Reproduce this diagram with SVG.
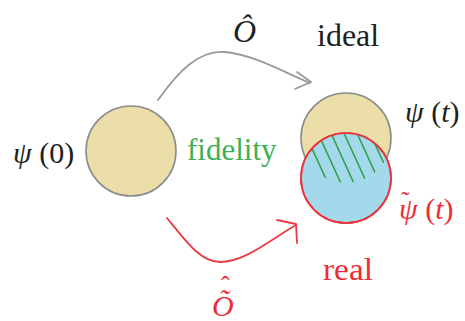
<svg xmlns="http://www.w3.org/2000/svg" width="465" height="321" viewBox="0 0 465 321">
<style>
.lbl{font-family:"Liberation Serif","DejaVu Serif",serif;font-size:30px;fill:#1e1e1e}
.it{font-style:italic}
.red{fill:#ee2c36}
.acc{font-style:normal;font-size:26px}
.conn{fill:none;stroke-width:1.8;stroke-linecap:round;stroke-linejoin:round}
.gray{stroke:#9a9a9a}
.rs{stroke:#ec3a44}
.yel{fill:#ebdea8;stroke:#8c8c8c;stroke-width:1.6}
</style>
<defs>
<clipPath id="clipY"><circle cx="346" cy="138" r="45"/></clipPath>
<clipPath id="clipB"><circle cx="346" cy="178" r="45"/></clipPath>
</defs>
<rect width="465" height="321" fill="#fff"/>

<g id="connectors">
  <g id="ideal-arrow">
    <path class="conn gray" d="M158,100 C178,72 198,50 225,52 C255,55 283,72 310,83"/>
    <path class="conn gray" d="M297,72 L311,82 L295,89"/>
  </g>
  <g id="real-arrow">
    <path class="conn rs" d="M167,218 C185,240 200,262 220,262 C245,262 270,240 296,225"/>
    <path class="conn rs" d="M277,220 L296,224 L297,243"/>
  </g>
</g>

<g id="psi0">
  <circle class="yel" cx="131" cy="151" r="45"/>
  <text class="lbl" x="13" y="163"><tspan class="it">ψ</tspan> (0)</text>
</g>

<g id="psit">
  <circle class="yel" cx="346" cy="138" r="45"/>
  <text class="lbl" x="405" y="122"><tspan class="it">ψ</tspan> (<tspan class="it">t</tspan>)</text>
</g>

<g id="psitilde">
  <circle cx="346" cy="178" r="45" fill="#a3d9ea" stroke="#e8343e" stroke-width="1.6"/>
  <g clip-path="url(#clipY)">
    <g clip-path="url(#clipB)" stroke="#2f9e44" stroke-width="1.5">
      <line x1="286" y1="120" x2="318" y2="190"/>
      <line x1="299" y1="120" x2="331" y2="190"/>
      <line x1="312" y1="120" x2="344" y2="190"/>
      <line x1="325" y1="120" x2="357" y2="190"/>
      <line x1="338" y1="120" x2="370" y2="190"/>
      <line x1="351" y1="120" x2="383" y2="190"/>
      <line x1="364" y1="120" x2="396" y2="190"/>
      <line x1="377" y1="120" x2="409" y2="190"/>
    </g>
  </g>
  <circle cx="346" cy="178" r="45" fill="none" stroke="#e8343e" stroke-width="1.6"/>
  <text class="lbl red" x="399" y="219"><tspan class="it">ψ</tspan> (<tspan class="it">t</tspan>)<tspan class="acc" x="401" y="209">˜</tspan></text>
</g>

<g id="labels">
  <text class="lbl it" x="233" y="42" style="font-size:32px">Ô</text>
  <text class="lbl" x="317" y="46" style="font-size:32px">ideal</text>
  <text class="lbl" x="187" y="160" style="font-size:31px;fill:#3daf57">fidelity</text>
  <text class="lbl red" x="323" y="280" style="font-size:31px" textLength="50" lengthAdjust="spacingAndGlyphs">real</text>
  <text class="lbl red it" x="212" y="316" style="font-size:30px">Õ<tspan class="acc" x="221" y="294">ˆ</tspan></text>
</g>
</svg>
